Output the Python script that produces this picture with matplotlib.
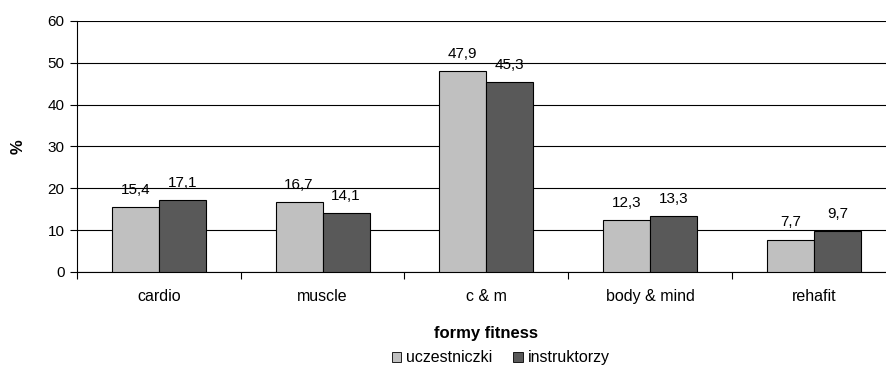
import numpy as np
import matplotlib.pyplot as plt
from matplotlib.patches import Patch

plt.rcParams["font.family"] = ["Liberation Sans", "DejaVu Sans"]
plt.rcParams["font.size"] = 11

categories = ["cardio", "muscle", "c & m", "body & mind", "rehafit"]
uczestniczki = [15.4, 16.7, 47.9, 12.3, 7.7]
instruktorzy = [17.1, 14.1, 45.3, 13.3, 9.7]
series_names = ["uczestniczki", "instruktorzy"]
colors = ["#c0c0c0", "#595959"]

fig = plt.figure(figsize=(8.86, 3.66), dpi=100)
ax = fig.add_axes([0.0869, 0.257, 0.924, 0.686])

x = np.arange(len(categories))
w = 0.287
bars1 = ax.bar(x - w / 2, uczestniczki, w, color=colors[0], edgecolor="black", linewidth=0.8, zorder=3)
bars2 = ax.bar(x + w / 2, instruktorzy, w, color=colors[1], edgecolor="black", linewidth=0.8, zorder=3)

for bars, vals in ((bars1, uczestniczki), (bars2, instruktorzy)):
    for b, v in zip(bars, vals):
        ax.annotate(f"{v:.1f}".replace(".", ","), (b.get_x() + b.get_width() / 2, v),
                    xytext=(0, 7.5), textcoords="offset points", ha="center", va="bottom", fontsize=11)

ax.set_ylim(0, 60)
ax.set_yticks(range(0, 61, 10))
ax.set_xlim(-0.5, len(categories) - 0.5)
ax.yaxis.grid(True, color="black", linewidth=0.8, zorder=0)
ax.set_axisbelow(True)

# category labels between boundary ticks
ax.set_xticks(np.arange(-0.5, len(categories), 1.0))
ax.set_xticklabels([])
ax.set_xticks(x, minor=True)
ax.set_xticklabels(categories, minor=True, fontsize=11.5)
ax.tick_params(axis="x", which="minor", length=0, pad=12)
ax.tick_params(axis="x", which="major", length=5, color="black", width=0.8)
ax.tick_params(axis="y", length=5, width=0.8, pad=4, labelsize=11)

for s in ("top", "right"):
    ax.spines[s].set_visible(False)
for s in ("left", "bottom"):
    ax.spines[s].set_color("black")
    ax.spines[s].set_linewidth(0.8)

ax.set_ylabel("%", fontweight="bold", fontsize=12, labelpad=16)
ax.set_xlabel("formy fitness", fontweight="bold", fontsize=12, labelpad=16)

handles = [Patch(facecolor=c, edgecolor="black", linewidth=0.6) for c in colors]
fig.legend(handles, series_names, loc="center", bbox_to_anchor=(0.565, 0.022), ncol=2,
           frameon=False, handlelength=0.6, handleheight=0.6, handletextpad=0.3,
           columnspacing=1.3, fontsize=11.5)

fig.savefig("out.png", dpi=100)
